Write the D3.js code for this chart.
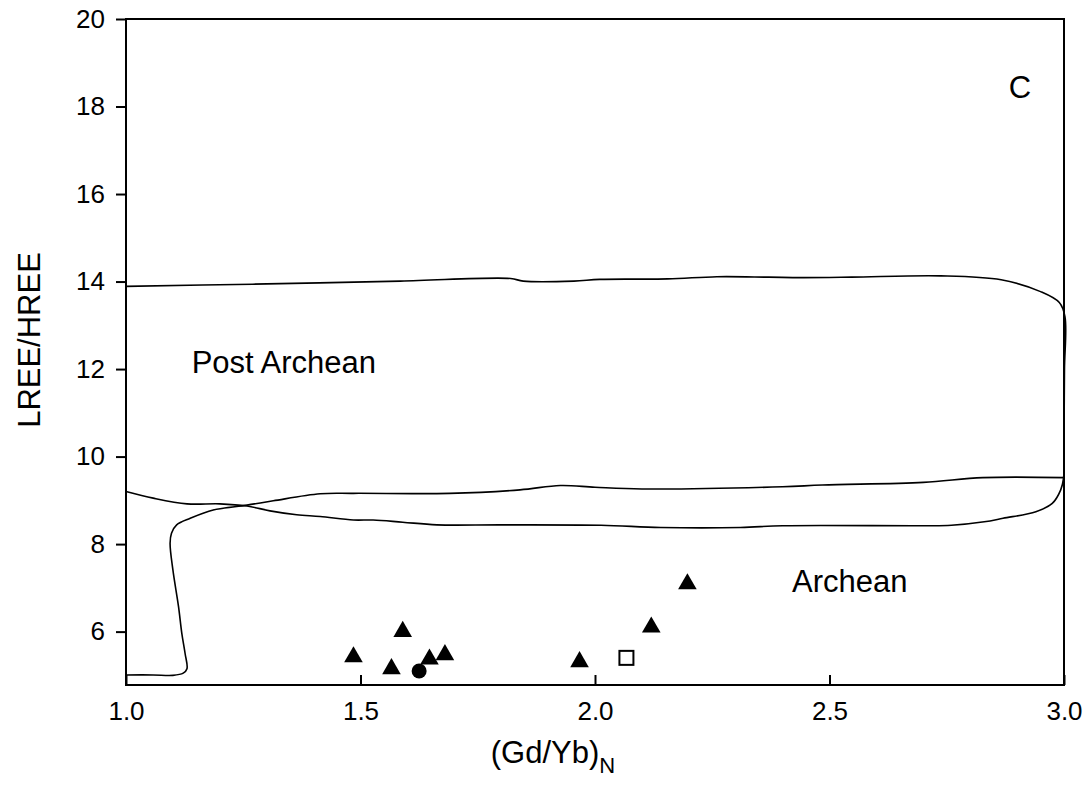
<!DOCTYPE html>
<html>
<head>
<meta charset="utf-8">
<script src="https://cdn.jsdelivr.net/npm/d3@7"></script>
<style>
  html, body { margin: 0; padding: 0; background: #fff; }
  svg text { font-family: "Liberation Sans", Arial, sans-serif; fill: #000; }
</style>
</head>
<body>
<svg id="chart" width="1086" height="794"></svg>
<script>
// ---- data ----
const xTicks = [1.0, 1.5, 2.0, 2.5, 3.0];
const yTicks = [6, 8, 10, 12, 14, 16, 18, 20];

const triangleX = [1.485, 1.59, 1.566, 1.647, 1.68, 1.967, 2.12, 2.197];
const triangleY = [5.42, 6.00, 5.15, 5.37, 5.47, 5.31, 6.10, 7.09];
const circleX = [1.625];
const circleY = [5.10];
const squareX = [2.067];
const squareY = [5.40];

const postArcheanField = [
  [1.0,9.20],[1.058,9.05],[1.13,8.92],[1.20,8.92],[1.258,8.87],[1.307,8.76],[1.364,8.67],
  [1.414,8.63],[1.485,8.55],[1.527,8.55],[1.59,8.50],[1.663,8.44],[1.8,8.44],[2.013,8.43],
  [2.14,8.38],[2.31,8.38],[2.40,8.42],[2.70,8.42],[2.76,8.43],[2.83,8.51],[2.87,8.59],
  [2.94,8.74],[2.975,8.93],[2.993,9.24],[2.999,9.5],[3.0,10.5],[3.001,12.0],[3.002,13.2],
  [2.99,13.52],[2.95,13.77],[2.866,14.04],[2.737,14.13],[2.547,14.10],[2.44,14.09],
  [2.37,14.10],[2.26,14.11],[2.155,14.06],[2.01,14.05],[1.955,14.01],[1.847,14.01],
  [1.82,14.07],[1.585,14.01],[1.27,13.94],[1.0,13.89]
];
const archeanField = [
  [1.0,5.01],[1.058,5.01],[1.10,5.0],[1.122,5.05],[1.13,5.15],[1.126,5.5],[1.119,5.96],
  [1.112,6.57],[1.10,7.41],[1.094,8.02],[1.097,8.25],[1.108,8.44],[1.137,8.59],[1.186,8.78],
  [1.258,8.89],[1.314,8.99],[1.414,9.15],[1.485,9.16],[1.69,9.16],[1.84,9.24],[1.926,9.34],
  [2.0,9.30],[2.1,9.26],[2.40,9.31],[2.485,9.35],[2.70,9.41],[2.827,9.52],[3.0,9.52]
];

const labels = [
  {text: "Post Archean", x: 1.14, y: 11.9},
  {text: "Archean", x: 2.42, y: 6.9},
  {text: "C", x: 2.882, y: 18.2}
];

// ---- layout ----
const svg = d3.select("#chart");
const mLeft = 126, mRight = 1064, mTop = 19, mBottom = 685;
const x = d3.scaleLinear().domain([1, 3]).range([mLeft, mRight]);
const y = d3.scaleLinear().domain([4.78, 20]).range([mBottom, mTop]);

svg.append("rect").attr("width", 1086).attr("height", 794).attr("fill", "#fff");

// frame
svg.append("rect")
  .attr("x", mLeft).attr("y", mTop)
  .attr("width", mRight - mLeft).attr("height", mBottom - mTop)
  .attr("fill", "none").attr("stroke", "#000").attr("stroke-width", 2);

// axes
const yAxis = d3.axisLeft(y).tickValues(yTicks).tickFormat(d3.format("d")).tickSizeOuter(0).tickSize(10).tickPadding(11);
const gy = svg.append("g").attr("transform", `translate(${mLeft},0)`).call(yAxis);
gy.select(".domain").remove();
gy.selectAll("line").attr("stroke", "#000").attr("stroke-width", 2);
gy.selectAll("text").attr("font-size", 26).attr("fill", "#000");

const xAxis = d3.axisBottom(x).tickValues(xTicks).tickFormat(d3.format(".1f")).tickSizeOuter(0).tickSize(-10).tickPadding(17);
const gx = svg.append("g").attr("transform", `translate(0,${mBottom})`).call(xAxis);
gx.select(".domain").remove();
gx.selectAll("line").attr("stroke", "#000").attr("stroke-width", 2);
gx.selectAll("text").attr("font-size", 26).attr("fill", "#000");

// fields
const line = d3.line().x(d => x(d[0])).y(d => y(d[1])).curve(d3.curveCatmullRom.alpha(0.5));
[postArcheanField, archeanField].forEach(f => {
  svg.append("path").attr("d", line(f)).attr("fill", "none")
    .attr("stroke", "#000").attr("stroke-width", 1.6);
});

// markers
const tri = d3.symbol().type(d3.symbolTriangle).size(150);
svg.append("g").selectAll("path").data(d3.range(triangleX.length)).join("path")
  .attr("d", tri)
  .attr("transform", i => `translate(${x(triangleX[i])},${y(triangleY[i])})`)
  .attr("fill", "#000");
svg.append("g").selectAll("circle").data(d3.range(circleX.length)).join("circle")
  .attr("cx", i => x(circleX[i])).attr("cy", i => y(circleY[i])).attr("r", 7.5)
  .attr("fill", "#000");
svg.append("g").selectAll("rect").data(d3.range(squareX.length)).join("rect")
  .attr("x", i => x(squareX[i]) - 7).attr("y", i => y(squareY[i]) - 7)
  .attr("width", 14).attr("height", 14)
  .attr("fill", "#fff").attr("stroke", "#000").attr("stroke-width", 2);

// annotations
svg.append("g").selectAll("text").data(labels).join("text")
  .attr("x", d => x(d.x)).attr("y", d => y(d.y))
  .attr("font-size", 31)
  .text(d => d.text);

// titles
const xt = svg.append("text").attr("x", 553).attr("y", 763).attr("text-anchor", "middle").attr("font-size", 31);
xt.append("tspan").text("(Gd/Yb)");
xt.append("tspan").attr("dy", 10).attr("font-size", 22).text("N");

svg.append("text")
  .attr("transform", "translate(40,340) rotate(-90)")
  .attr("text-anchor", "middle").attr("font-size", 31)
  .text("LREE/HREE");
</script>
</body>
</html>
